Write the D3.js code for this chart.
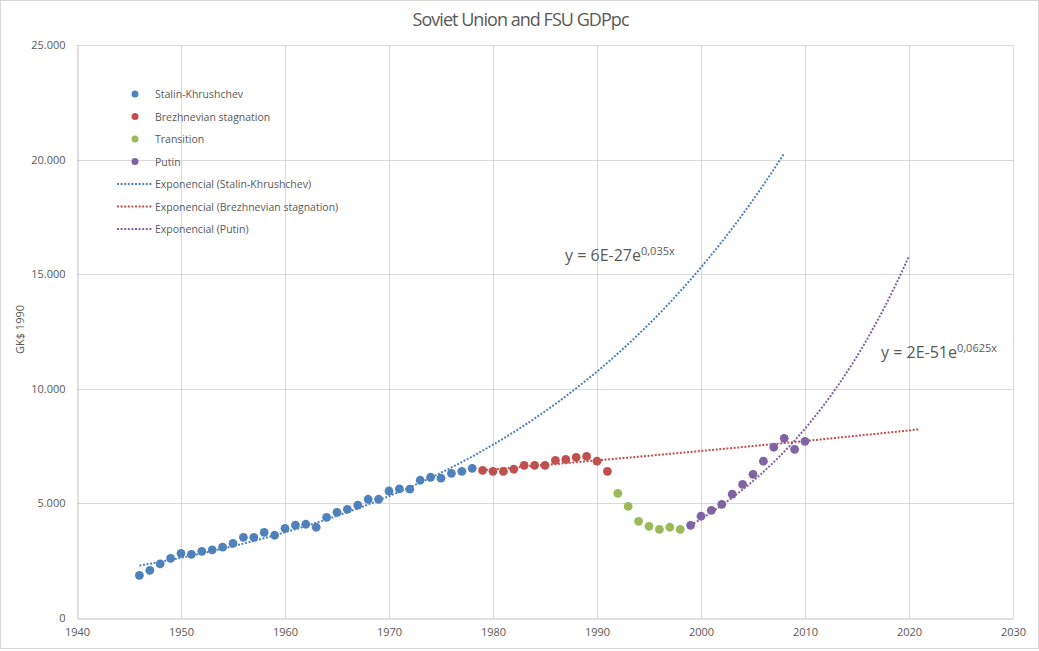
<!DOCTYPE html>
<html><head><meta charset="utf-8">
<script src="https://cdn.jsdelivr.net/npm/d3@7"></script>
<style>
body{margin:0;background:#fff;}
text{font-family:"Open Sans",sans-serif;fill:#595959;}
</style></head>
<body><svg id="c" width="1039" height="651"></svg>
<script>
// ---- data ----
const stalinYears = d3.range(1946, 1979);
const stalinValues = [1860,2080,2360,2600,2820,2780,2910,2970,3090,3260,3520,3520,3740,3610,3910,4050,4090,3960,4390,4610,4740,4920,5180,5180,5540,5630,5620,6010,6140,6100,6310,6400,6530];
const brezhnevYears = d3.range(1979, 1992);
const brezhnevValues = [6440,6400,6400,6490,6660,6660,6660,6880,6920,7010,7050,6840,6400];
const transitionYears = d3.range(1992, 1999);
const transitionValues = [5440,4870,4220,4000,3870,3960,3870];
const putinYears = d3.range(1999, 2011);
const putinValues = [4045,4440,4700,4960,5400,5830,6270,6840,7450,7840,7360,7710];

// trendlines: value at start year and growth rate
const trendNames = ["Stalin-Khrushchev","Brezhnevian stagnation","Putin"];
const trendFrom = [1946, 1979, 1999];
const trendTo = [2008, 2021, 2020];
const trendBase = [2282, 6450, 4050];
const trendRate = [0.03523, 0.00581, 0.0648];
const trendLabels = [["y = 6E-27e","0,035x"], null, ["y = 2E-51e","0,0625x"]];

const xTicks = [1940,1950,1960,1970,1980,1990,2000,2010,2020,2030];
const yTicks = [0,5000,10000,15000,20000,25000];

const colors = {"Stalin-Khrushchev":"#4F81BD","Brezhnevian stagnation":"#C0504D","Transition":"#9BBB59","Putin":"#8064A2"};

// ---- layout ----
const svg = d3.select("#c");
const L=77, R=1013, T=45, B=618;
const x = d3.scaleLinear().domain([1940,2030]).range([L,R]);
const y = d3.scaleLinear().domain([0,25000]).range([B,T]);
const fmt = v => v===0 ? "0" : d3.format(",")(v).replace(/,/g,".");

svg.append("rect").attr("x",0.5).attr("y",0.5).attr("width",1038).attr("height",648)
  .attr("fill","#fff").attr("stroke","#d9d9d9");

svg.append("text").attr("x",521).attr("y",26).attr("text-anchor","middle")
  .style("font-size","18px").attr("textLength",217).attr("lengthAdjust","spacing")
  .text("Soviet Union and FSU GDPpc");

// grid
const grid = svg.append("g");
grid.selectAll(".hg").data(yTicks.filter(d=>d>0)).enter().append("line")
  .attr("x1",L).attr("x2",R).attr("y1",d=>Math.round(y(d))+0.5).attr("y2",d=>Math.round(y(d))+0.5)
  .attr("stroke","#d9d9d9");
grid.selectAll(".vg").data(xTicks.filter(d=>d>1940)).enter().append("line")
  .attr("y1",T).attr("y2",B).attr("x1",d=>Math.round(x(d))+0.5).attr("x2",d=>Math.round(x(d))+0.5)
  .attr("stroke","#d9d9d9");

// axes
const xAxis = d3.axisBottom(x).tickValues(xTicks).tickSize(0).tickPadding(10).tickFormat(d3.format("d"));
const gx = svg.append("g").attr("transform",`translate(0,${Math.round(B)+0.5})`).call(xAxis);
gx.select(".domain").attr("stroke","#bfbfbf");
gx.selectAll("text").style("font-size","11px").attr("fill","#595959");

const yAxis = d3.axisLeft(y).tickValues(yTicks).tickSize(0).tickPadding(12).tickFormat(fmt);
const gy = svg.append("g").attr("transform",`translate(${Math.round(L)+0.5},0)`).call(yAxis);
gy.select(".domain").attr("stroke","#bfbfbf");
gy.selectAll("text").style("font-size","11px").attr("fill","#595959");

svg.append("text").attr("transform",`translate(24,${(T+B)/2-2}) rotate(-90)`)
  .attr("text-anchor","middle").style("font-size","11px").text("GK$ 1990");

// trendlines
const line = d3.line().x(d=>x(d[0])).y(d=>y(d[1]));
trendNames.forEach((n,i)=>{
  const pts = d3.range(trendFrom[i], trendTo[i]+0.001, 0.25).map(t=>[t, trendBase[i]*Math.exp(trendRate[i]*(t-trendFrom[i]))]);
  svg.append("path").attr("d",line(pts)).attr("fill","none")
    .attr("stroke",colors[n]).attr("stroke-width",2).attr("stroke-dasharray","2,1.6");
});

// points
const series = [
  ["Stalin-Khrushchev", stalinYears, stalinValues],
  ["Brezhnevian stagnation", brezhnevYears, brezhnevValues],
  ["Transition", transitionYears, transitionValues],
  ["Putin", putinYears, putinValues]
];
series.forEach(([n,ys,vs])=>{
  svg.append("g").selectAll("circle").data(ys.map((yr,i)=>[yr,vs[i]])).enter().append("circle")
    .attr("cx",d=>x(d[0])).attr("cy",d=>y(d[1])).attr("r",4.4).attr("fill",colors[n]);
});

// trend equation labels
const labelPos = [[565,261],null,[881,358]];
trendLabels.forEach((lb,i)=>{
  if(!lb) return;
  const t = svg.append("text").attr("x",labelPos[i][0]).attr("y",labelPos[i][1]).style("font-size","16px");
  t.append("tspan").text(lb[0]);
  t.append("tspan").attr("dy",-6).style("font-size","11px").text(lb[1]);
});

// legend
const legend = svg.append("g");
const legItems = [
  {t:"Stalin-Khrushchev", c:colors["Stalin-Khrushchev"], k:"dot"},
  {t:"Brezhnevian stagnation", c:colors["Brezhnevian stagnation"], k:"dot"},
  {t:"Transition", c:colors["Transition"], k:"dot"},
  {t:"Putin", c:colors["Putin"], k:"dot"},
  {t:"Exponencial (Stalin-Khrushchev)", c:colors["Stalin-Khrushchev"], k:"line"},
  {t:"Exponencial (Brezhnevian stagnation)", c:colors["Brezhnevian stagnation"], k:"line"},
  {t:"Exponencial (Putin)", c:colors["Putin"], k:"line"}
];
legItems.forEach((it,i)=>{
  const yy = 94 + i*22.5;
  if(it.k==="dot") legend.append("circle").attr("cx",135).attr("cy",yy).attr("r",3.5).attr("fill",it.c);
  else legend.append("line").attr("x1",117).attr("x2",152).attr("y1",yy).attr("y2",yy)
    .attr("stroke",it.c).attr("stroke-width",2).attr("stroke-dasharray","2,1.6");
  legend.append("text").attr("x",155).attr("y",yy+4).style("font-size","10.5px").text(it.t);
});
</script></body></html>
